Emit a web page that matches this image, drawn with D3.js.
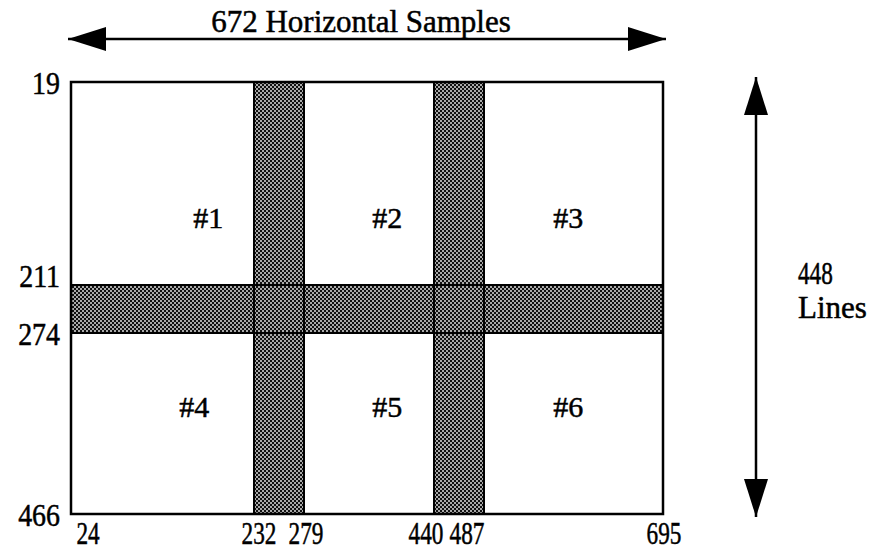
<!DOCTYPE html>
<html>
<head>
<meta charset="utf-8">
<script src="https://cdn.jsdelivr.net/npm/d3@7"></script>
<style>
  body { margin: 0; background: #fff; }
  text { font-family: "Liberation Serif", "Times New Roman", serif; fill: #000; stroke: #000; stroke-width: 0.5; }
</style>
</head>
<body>
<svg id="chart" width="869" height="552"></svg>
<script>
// Sample (x) and line (y) boundaries of the image frame
const xEdges = [24, 232, 279, 440, 487, 695];
const yEdges = [19, 211, 274, 466];

// Stippled overlap strips: [start, end] in samples / lines
const vStrips = [[232, 279], [440, 487]];
const hStrips = [[211, 274]];

// Region labels placed in sample/line coordinates
const regionNames = ["#1", "#2", "#3", "#4", "#5", "#6"];
const regionX = [180, 382, 585, 164, 382, 585];
const regionY = [147, 147, 147, 352, 352, 352];

const titleText = "672 Horizontal Samples";
const sideText = ["448", "Lines"];

const svg = d3.select("#chart");

// The drawing is not to scale, so piecewise scales through each boundary
const x = d3.scaleLinear().domain(xEdges).range([71, 254, 304, 434, 484, 663]);
const y = d3.scaleLinear().domain(yEdges).range([82, 285, 333, 514]);

// Stipple pattern (dark screen with light dots)
const defs = svg.append("defs");
const pat = defs.append("pattern")
  .attr("id", "stipple")
  .attr("patternUnits", "userSpaceOnUse")
  .attr("width", 4)
  .attr("height", 4);
pat.append("rect").attr("width", 4).attr("height", 4).attr("fill", "#111");
pat.append("rect").attr("x", 0.2).attr("y", 0.2).attr("width", 1.6).attr("height", 1.6).attr("fill", "#fff");
pat.append("rect").attr("x", 2.2).attr("y", 2.2).attr("width", 1.6).attr("height", 1.6).attr("fill", "#fff");

// Arrow heads
const mk = defs.append("marker")
  .attr("id", "head")
  .attr("viewBox", "0 0 38 24")
  .attr("refX", 38)
  .attr("refY", 12)
  .attr("markerWidth", 38)
  .attr("markerHeight", 24)
  .attr("markerUnits", "userSpaceOnUse")
  .attr("orient", "auto-start-reverse");
mk.append("path").attr("d", "M0,0 L38,12 L0,24 Z").attr("fill", "#000");

// numbers in the scan are set narrow, squeeze them
function numText(sel, px, py, anchor, sx) {
  return sel.attr("text-anchor", anchor)
    .attr("font-size", 31)
    .attr("transform", (d, i) => `translate(${px(d, i)},${py(d, i)}) scale(${sx},1)`);
}

// Frame
const x0 = x(xEdges[0]), x1 = x(xEdges[xEdges.length - 1]);
const y0 = y(yEdges[0]), y1 = y(yEdges[yEdges.length - 1]);

svg.append("rect")
  .attr("x", x0).attr("y", y0)
  .attr("width", x1 - x0).attr("height", y1 - y0)
  .attr("fill", "#fff");

// strip fills
const strips = hStrips.map(d => ({ x: x0, y: y(d[0]), w: x1 - x0, h: y(d[1]) - y(d[0]) }))
  .concat(vStrips.map(d => ({ x: x(d[0]), y: y0, w: x(d[1]) - x(d[0]), h: y1 - y0 })));

svg.append("g").selectAll("rect")
  .data(strips)
  .join("rect")
  .attr("x", d => d.x).attr("y", d => d.y)
  .attr("width", d => d.w).attr("height", d => d.h)
  .attr("fill", "url(#stipple)");

// strip outlines go on top so the crossings show the edges
svg.append("g").selectAll("rect")
  .data(strips)
  .join("rect")
  .attr("x", d => d.x).attr("y", d => d.y)
  .attr("width", d => d.w).attr("height", d => d.h)
  .attr("fill", "none")
  .attr("stroke", "#000")
  .attr("stroke-width", 2);

svg.append("rect")
  .attr("x", x0).attr("y", y0)
  .attr("width", x1 - x0).attr("height", y1 - y0)
  .attr("fill", "none")
  .attr("stroke", "#000")
  .attr("stroke-width", 2.5);

// Region labels
svg.append("g").selectAll("text")
  .data(regionNames)
  .join("text")
  .attr("x", (d, i) => x(regionX[i]))
  .attr("y", (d, i) => y(regionY[i]))
  .attr("dy", "0.35em")
  .attr("text-anchor", "middle")
  .attr("font-size", 30)
  .text(d => d);

// Left labels (lines)
numText(svg.append("g").selectAll("text").data(yEdges).join("text"),
  () => x0 - 11,
  d => y(d) + (d === 211 ? 2 : 12),
  "end", 0.9)
  .text(d => d);

// Bottom labels (samples), nudged like the original lettering
const xNudge = [17, 5, 2, -8, -17, 1];
numText(svg.append("g").selectAll("text").data(xEdges).join("text"),
  (d, i) => x(d) + xNudge[i],
  () => 544,
  "middle", 0.75)
  .text(d => d);

// Top dimension arrow
svg.append("line")
  .attr("x1", x0 - 3).attr("x2", x1 + 3)
  .attr("y1", 39).attr("y2", 39)
  .attr("stroke", "#000")
  .attr("stroke-width", 2.5)
  .attr("marker-start", "url(#head)")
  .attr("marker-end", "url(#head)");

svg.append("text")
  .attr("x", 361)
  .attr("y", 32)
  .attr("text-anchor", "middle")
  .attr("font-size", 31)
  .text(titleText);

// Right dimension arrow
const ax = 756;
svg.append("line")
  .attr("x1", ax).attr("x2", ax)
  .attr("y1", y0 - 5).attr("y2", y1 + 3)
  .attr("stroke", "#000")
  .attr("stroke-width", 2.5)
  .attr("marker-start", "url(#head)")
  .attr("marker-end", "url(#head)");

svg.append("text")
  .attr("transform", "translate(798,284) scale(0.75,1)")
  .attr("font-size", 31)
  .text(sideText[0]);

svg.append("text")
  .attr("x", 798)
  .attr("y", 318)
  .attr("font-size", 31)
  .text(sideText[1]);
</script>
</body>
</html>
